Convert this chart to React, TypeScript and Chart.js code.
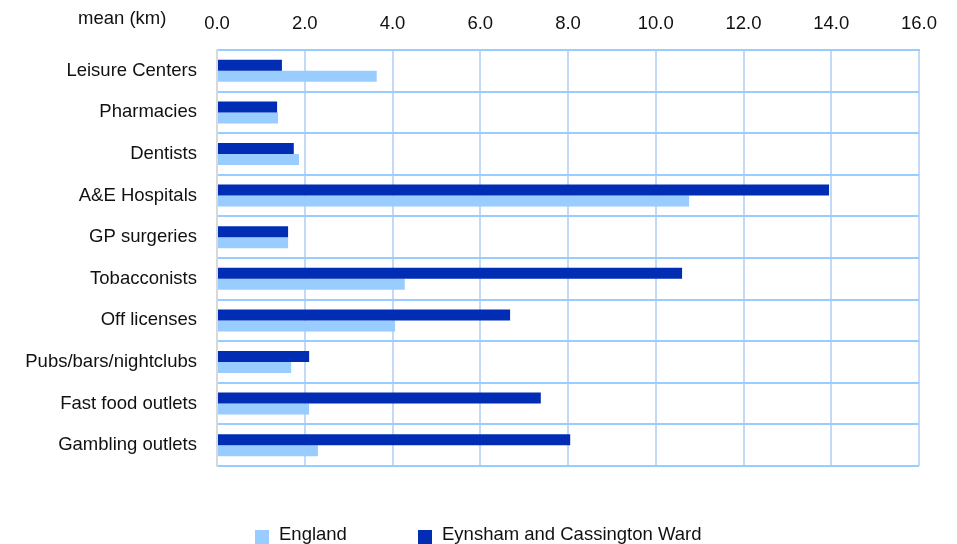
import React, { useEffect, useRef } from "react";
import { Chart, registerables } from "chart.js";

Chart.register(...registerables);

const categories = [
  "Leisure Centers",
  "Pharmacies",
  "Dentists",
  "A&E Hospitals",
  "GP surgeries",
  "Tobacconists",
  "Off licenses",
  "Pubs/bars/nightclubs",
  "Fast food outlets",
  "Gambling outlets",
];
const englandValues = [3.64, 1.39, 1.87, 10.76, 1.62, 4.28, 4.06, 1.69, 2.1, 2.3];
const eynshamValues = [1.48, 1.37, 1.75, 13.95, 1.62, 10.6, 6.68, 2.1, 7.38, 8.05];
const seriesNames = ["England", "Eynsham and Cassington Ward"];
const axisTitle = "mean (km)";
const xMin = 0;
const xMax = 16;
const xStep = 2;

const LIGHT = "#99ccff";
const DARK = "#002db3";
const FONT = "'Liberation Sans', Arial, sans-serif";
const FS = 18.5;
const TXT = "#111";

export default function App() {
  const ref = useRef<HTMLCanvasElement | null>(null);
  useEffect(() => {
    if (!ref.current) return;
    const chart = new Chart(ref.current, {
      type: "bar",
      data: {
        labels: categories,
        datasets: [
          {
            label: seriesNames[0],
            data: englandValues,
            backgroundColor: LIGHT,
            order: 1,
            barPercentage: 1,
            categoryPercentage: 0.53,
          },
          {
            label: seriesNames[1],
            data: eynshamValues,
            backgroundColor: DARK,
            order: 0,
            barPercentage: 1,
            categoryPercentage: 0.53,
          },
        ],
      },
      options: {
        indexAxis: "y",
        animation: false,
        responsive: true,
        maintainAspectRatio: false,
        layout: { padding: { left: 0, top: 0, right: 38, bottom: 78 } },
        plugins: {
          legend: { display: false },
          tooltip: { enabled: false },
          title: { display: false },
        },
        scales: {
          x: {
            position: "top",
            min: xMin,
            max: xMax,
            ticks: {
              stepSize: xStep,
              padding: 15,
              color: TXT,
              font: { family: FONT, size: FS },
              callback: (v: any) => Number(v).toFixed(1),
            },
            grid: { color: "#c2daf5", lineWidth: 2, drawTicks: false },
            border: { display: true, color: LIGHT, width: 2 },
            afterFit: (s: any) => {
              s.height = 50;
            },
          },
          y: {
            ticks: {
              padding: 20,
              color: TXT,
              font: { family: FONT, size: FS },
            },
            grid: { color: LIGHT, lineWidth: 2, drawTicks: false, offset: true },
            border: { display: true, color: "#d9d9d9", width: 2 },
            afterFit: (s: any) => {
              s.width = 217;
            },
          },
        },
      },
    });
    return () => chart.destroy();
  }, []);

  const text: React.CSSProperties = {
    position: "absolute",
    fontFamily: FONT,
    fontSize: FS,
    lineHeight: "22px",
    color: TXT,
    whiteSpace: "nowrap",
  };

  return (
    <div style={{ position: "fixed", left: 0, top: 0, width: 957, height: 544, background: "#fff", overflow: "hidden" }}>
      <canvas ref={ref} style={{ position: "absolute", left: 0, top: 0 }} />
      <div style={{ ...text, left: 78, top: 7 }}>{axisTitle}</div>
      <div style={{ position: "absolute", left: 255, top: 530, width: 14, height: 14, background: LIGHT }} />
      <div style={{ ...text, left: 279, top: 523 }}>{seriesNames[0]}</div>
      <div style={{ position: "absolute", left: 418, top: 530, width: 14, height: 14, background: DARK }} />
      <div style={{ ...text, left: 442, top: 523 }}>{seriesNames[1]}</div>
    </div>
  );
}
